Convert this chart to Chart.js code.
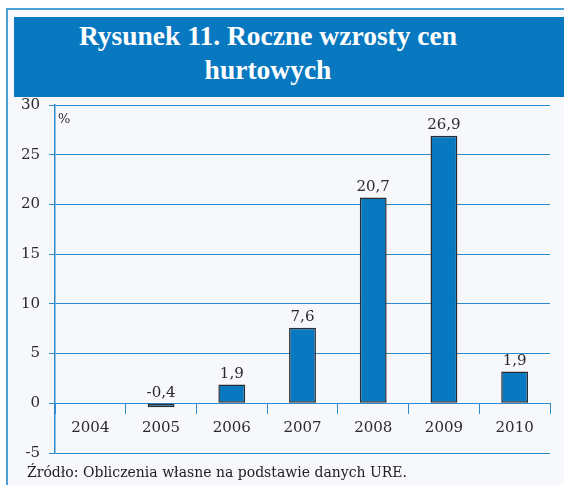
<!DOCTYPE html>
<html>
<head>
<meta charset="utf-8">
<script src="https://cdn.jsdelivr.net/npm/chart.js@4/dist/chart.umd.min.js"></script>
<style>
  html, body { margin: 0; padding: 0; background: #ffffff; }
  #wrap { position: relative; width: 564px; height: 485px; overflow: hidden; background: #ffffff; }
  #frame { position: absolute; left: 6px; top: 8px; width: 600px; height: 500px;
           border-left: 2px solid #4d9fd8; border-top: 2px solid #4d9fd8; background: #f6f8fc; }
  #header { position: absolute; left: 14px; top: 17px; width: 560px; height: 80px; background: #0878c1; }
  #title { position: absolute; left: 0; top: 19px; width: 536px; text-align: center;
           font-family: "Liberation Serif", serif; font-weight: bold; font-size: 27.5px;
           line-height: 34px; color: #ffffff; }
  #source { position: absolute; left: 27px; top: 464px; font-family: "DejaVu Serif", serif;
            font-size: 14px; color: #222; white-space: nowrap; }
  #c { position: absolute; left: 0; top: 0; }
</style>
</head>
<body>
<div id="wrap">
  <div id="frame"></div>
  <div id="header"></div>
  <div id="title">Rysunek 11. Roczne wzrosty cen<br>hurtowych</div>
  <canvas id="c" width="564" height="485"></canvas>
  <div id="source">Źródło: Obliczenia własne na podstawie danych URE.</div>
</div>
<script>
const categories = ["2004", "2005", "2006", "2007", "2008", "2009", "2010"];
const values = [null, -0.4, 1.9, 7.6, 20.7, 26.9, 3.2];
const valueLabels = ["", "-0,4", "1,9", "7,6", "20,7", "26,9", "1,9"];
const yTicks = [-5, 0, 5, 10, 15, 20, 25, 30];
const unitLabel = "%";

const FONT = "DejaVu Serif";
const BLUE = "#0878c1";
const GRID = "#2f8bd0";

const labelPlugin = {
  id: "valueLabels",
  afterDatasetsDraw(chart) {
    const ctx = chart.ctx;
    const meta = chart.getDatasetMeta(0);
    ctx.save();
    ctx.font = "15px '" + FONT + "'";
    ctx.fillStyle = "#2a2a2a";
    ctx.textAlign = "center";
    ctx.textBaseline = "bottom";
    meta.data.forEach((bar, i) => {
      const t = valueLabels[i];
      if (!t || values[i] === null) return;
      const top = Math.min(bar.y, bar.base);
      ctx.fillText(t, bar.x, top - 3);
    });
    const area = chart.chartArea;
    ctx.textAlign = "left";
    ctx.textBaseline = "top";
    ctx.font = "13px '" + FONT + "'";
    ctx.fillText(unitLabel, area.left + 3, area.top + 8);
    ctx.restore();
  }
};

new Chart(document.getElementById("c"), {
  type: "bar",
  data: {
    labels: categories,
    datasets: [{
      data: values,
      backgroundColor: BLUE,
      borderColor: "#2b2b2b",
      borderWidth: 1.5,
      borderSkipped: false,
      barPercentage: 0.76,
      categoryPercentage: 0.5
    }]
  },
  options: {
    responsive: false,
    animation: false,
    devicePixelRatio: 1,
    layout: { padding: { left: 0, right: 14, top: 105, bottom: 32 } },
    plugins: { legend: { display: false }, tooltip: { enabled: false }, title: { display: false } },
    scales: {
      y: {
        position: "left",
        min: -5,
        max: 30,
        afterBuildTicks: (s) => { s.ticks = yTicks.map(v => ({ value: v })); },
        afterFit: (s) => { s.width = 55; },
        ticks: {
          font: { family: FONT, size: 15 },
          color: "#2a2a2a",
          padding: 9
        },
        grid: { color: GRID, lineWidth: 1, tickLength: 6, drawTicks: true },
        border: { display: true, color: GRID, width: 1.5 }
      },
      x: {
        position: { y: 0 },
        offset: true,
        afterFit: (s) => { s.height = 0; },
        ticks: {
          font: { family: FONT, size: 15 },
          color: "#2a2a2a",
          padding: 6,
          maxRotation: 0
        },
        grid: { display: true, drawOnChartArea: false, drawTicks: true, tickLength: 10, color: GRID, lineWidth: 1, offset: true },
        border: { display: true, color: GRID, width: 1 }
      }
    }
  },
  plugins: [labelPlugin]
});
</script>
</body>
</html>
